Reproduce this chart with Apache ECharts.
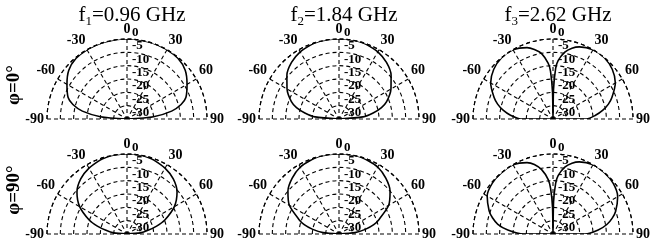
<!DOCTYPE html>
<html>
<head>
<meta charset="utf-8">
<script src="https://cdn.jsdelivr.net/npm/echarts@6/dist/echarts.min.js"></script>
<style>
html, body { margin: 0; padding: 0; background: #fff; }
#chart { width: 651px; height: 246px; }
</style>
</head>
<body>
<div id="chart"></div>
<script>
// angle (deg) of each sample; first/last repeat +-90 so the trace closes at the centre
var angles = [-90, -90, -85, -80, -75, -70, -60, -50, -40, -30, -20, -15, -10, -5, -3, -1, 0,
              1, 3, 5, 10, 15, 20, 30, 40, 50, 60, 70, 75, 80, 85, 90, 90];

// gain in dB, one list per panel
var gainF1Phi0  = [-30, -30, -20, -13, -9, -6.5, -4, -1.5, -0.3, 0, 0, 0, 0, 0, 0, 0, 0,
                   0, 0, 0, 0, 0, 0, 0, -0.3, -1.5, -4, -6.5, -9, -13, -20, -30, -30];
var gainF2Phi0  = [-30, -30, -21, -17, -13.5, -11, -7.5, -4.5, -2.3, -0.9, -0.2, 0, 0, 0, 0, 0, 0,
                   0, 0, 0, 0, 0, -0.2, -0.9, -2.3, -4.5, -7.5, -11, -13.5, -17, -21, -30, -30];
var gainF3Phi0  = [-30, -18, -14, -11, -8.5, -6.5, -3, -1, 0, 0, -1.5, -3, -5, -9, -12, -20, -30,
                   -19, -11, -8, -4.5, -2.5, -1.2, 0, 0, -1, -3, -6.5, -8.5, -11, -14, -17.5, -30];
var gainF1Phi90 = [-30, -30, -25, -22, -18.5, -15, -9.5, -5.5, -3, -1.5, -0.5, -0.2, 0, 0, 0, 0, 0,
                   0, 0, 0, 0, -0.2, -0.5, -1.5, -3, -5.5, -9.5, -15, -18.5, -22, -25, -30, -30];
var gainF2Phi90 = [-30, -30, -24, -20, -16.5, -14, -8.5, -5, -2.7, -1, -0.3, 0, 0, 0, 0, 0, 0,
                   0, 0, 0, 0, 0, -0.3, -1, -2.7, -5, -8.5, -14, -16.5, -20, -24, -30, -30];
var gainF3Phi90 = [-30, -19, -13, -9, -6.5, -4.5, -1.5, -0.3, 0, 0, -1.5, -3, -5.5, -9.5, -13, -20, -30,
                   -18, -11, -8, -4.5, -2.5, -1.2, 0, 0, -0.5, -2, -5, -7, -9.5, -13, -18, -30];

var panelGains = [gainF1Phi0, gainF2Phi0, gainF3Phi0, gainF1Phi90, gainF2Phi90, gainF3Phi90];
var titles = ['f{s|1}=0.96 GHz', 'f{s|2}=1.84 GHz', 'f{s|3}=2.62 GHz'];
var rowLabels = ['φ=0°', 'φ=90°'];
var angleMin = -90, angleMax = 90, angleStep = 30;
var radiusMin = -30, radiusMax = 0, radiusStep = 5;

var colX = [127, 339, 553];
var rowY = [119, 234];
var R = 80;

var font = 'Liberation Serif';
var dash = { color: '#000', width: 1.1, type: [4, 3] };

var polar = [], angleAxis = [], radiusAxis = [], series = [];
panelGains.forEach(function (gain, i) {
    var cx = colX[i % 3], cy = rowY[Math.floor(i / 3)];
    // grid polar
    polar.push({ center: [cx, cy], radius: R });
    angleAxis.push({
        polarIndex: 2 * i, type: 'value', min: angleMin, max: angleMax, interval: angleStep,
        startAngle: 180, endAngle: 0, clockwise: true,
        axisLine: { lineStyle: dash },
        axisTick: { show: false },
        splitLine: { lineStyle: dash },
        axisLabel: { color: '#000', fontFamily: font, fontWeight: 'bold', fontSize: 14, margin: 3 }
    });
    radiusAxis.push({
        polarIndex: 2 * i, type: 'value', min: radiusMin, max: radiusMax, interval: radiusStep,
        axisLine: { show: false }, axisTick: { show: false }, axisLabel: { show: false },
        splitLine: { lineStyle: dash }
    });
    // second polar only for the dB labels up the 0 deg line
    polar.push({ center: [cx, cy], radius: R });
    angleAxis.push({ polarIndex: 2 * i + 1, type: 'value', min: 0, max: 360, startAngle: 90, show: false });
    radiusAxis.push({
        polarIndex: 2 * i + 1, type: 'value', min: radiusMin, max: radiusMax, interval: radiusStep,
        axisLine: { show: false }, axisTick: { show: false }, splitLine: { show: false },
        axisLabel: { color: '#000', fontFamily: font, fontWeight: 'bold', fontSize: 13,
                     align: 'left', verticalAlign: 'bottom', margin: -5 }
    });
    series.push({
        type: 'line', coordinateSystem: 'polar', polarIndex: 2 * i,
        data: angles.map(function (a, j) { return [gain[j], a]; }),
        showSymbol: false, smooth: 0.25, silent: true,
        lineStyle: { color: '#000', width: 1.6 }
    });
});

var title = titles.map(function (t, c) {
    return {
        text: t, left: colX[c], top: -2, textAlign: 'center',
        textStyle: {
            color: '#000', fontFamily: font, fontWeight: 'normal', fontSize: 21,
            rich: { s: { fontFamily: font, fontSize: 13, color: '#000', verticalAlign: 'middle', padding: [12, 0, 0, 0] } }
        }
    };
});

var graphic = rowLabels.map(function (t, r) {
    return {
        type: 'text', x: 14, y: [85, 190][r], rotation: Math.PI / 2,
        style: { text: t, fill: '#000', font: 'bold 19px "Liberation Serif"', align: 'center', verticalAlign: 'middle' }
    };
});

var myChart = echarts.init(document.getElementById('chart'));
myChart.setOption({
    animation: false,
    title: title,
    polar: polar,
    angleAxis: angleAxis,
    radiusAxis: radiusAxis,
    graphic: graphic,
    series: series
});
</script>
</body>
</html>
